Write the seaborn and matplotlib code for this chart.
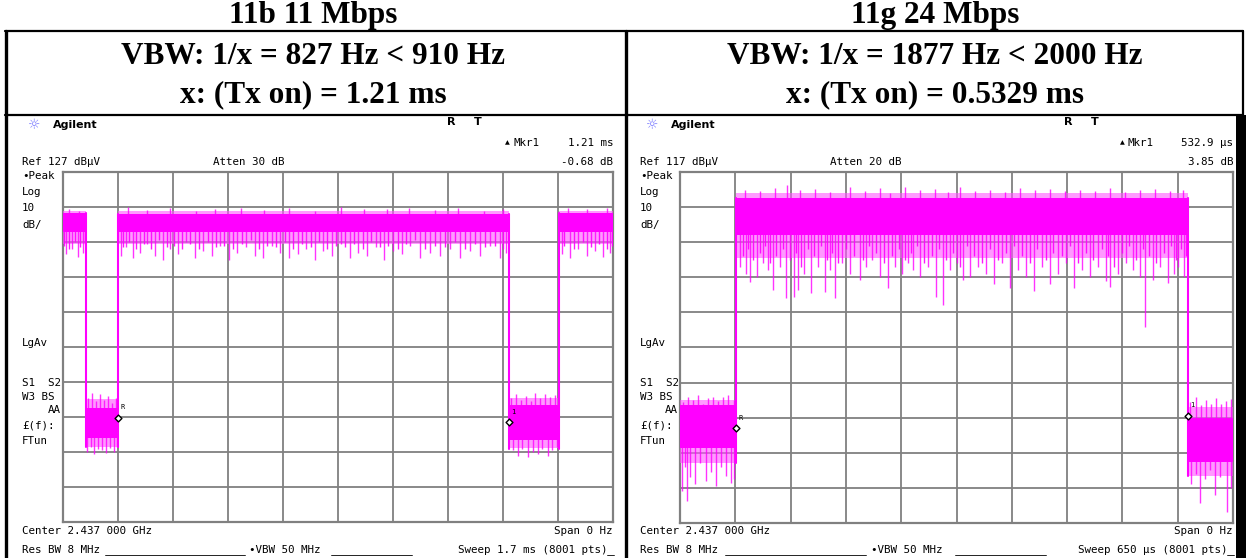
import numpy as np
import pandas as pd
import matplotlib
matplotlib.use("Agg")
import matplotlib.pyplot as plt
from matplotlib.patches import Rectangle
import seaborn as sns

# ---------------- data ----------------
titles = ["11b 11 Mbps", "11g 24 Mbps"]
vbw_lines = ["VBW: 1/x = 827 Hz < 910 Hz", "VBW: 1/x = 1877 Hz < 2000 Hz"]
tx_lines = ["x: (Tx on) = 1.21 ms", "x: (Tx on) = 0.5329 ms"]

# Left screen: 802.11b, sweep 1.7 ms, ref 127 dBuV, 10 dB/div
L_ref = 127
L_sweep = 1.7  # ms
L_edges = [0.0, 0.071, 0.170, 1.378, 1.533, 1.700]
L_core_top = [115.3, 59.5, 115.0, 60.5, 115.3]
L_core_bot = [110.0, 51.0, 110.0, 50.5, 110.0]
L_fr_top = [116.0, 62.0, 116.0, 62.5, 116.0]
L_fr_bot = [106.5, 48.5, 106.5, 48.0, 106.5]
L_dn_t = [0.009, 0.028, 0.046, 0.062,
          0.075, 0.085, 0.097, 0.108, 0.120, 0.133, 0.146, 0.158, 0.166,
          0.179, 0.195, 0.216, 0.238, 0.260, 0.284, 0.309, 0.331, 0.355, 0.380,
          0.408, 0.433, 0.461, 0.485, 0.513, 0.538, 0.566, 0.593, 0.618, 0.646,
          0.671, 0.699, 0.726, 0.751, 0.779, 0.804, 0.831, 0.859, 0.887, 0.912,
          0.940, 0.967, 0.992, 1.020, 1.048, 1.073, 1.104, 1.134, 1.165, 1.196,
          1.227, 1.258, 1.289, 1.320, 1.351, 1.369,
          1.390, 1.405, 1.420, 1.438, 1.452, 1.468, 1.482, 1.498, 1.512, 1.527,
          1.542, 1.567, 1.592, 1.620, 1.644, 1.669, 1.690]
L_dn_v = [103.5, 105.0, 102.8, 104.0,
          47.0, 48.5, 46.5, 48.0, 47.5, 46.8, 48.2, 47.0, 48.5,
          103.0, 105.5, 102.5, 104.0, 106.5, 103.0, 102.0, 105.0, 103.5, 107.0,
          102.5, 104.5, 103.0, 106.0, 102.0, 104.0, 105.5, 103.0, 102.5, 106.0,
          104.0, 102.5, 103.5, 105.0, 102.0, 104.5, 103.0, 106.5, 102.5, 104.0,
          103.0, 105.5, 102.0, 104.5, 103.5, 106.0, 102.5, 104.0, 103.0, 105.0,
          102.5, 104.5, 103.0, 106.0, 102.5, 104.0,
          47.5, 46.0, 48.0, 45.5, 47.0, 46.5, 48.0, 46.0, 47.5, 48.5,
          103.5, 102.5, 105.0, 103.0, 104.5, 102.8, 104.0]
# shallower hairs below the on-state band
L_dn2_t = [0.004, 0.018, 0.036, 0.054, 0.068,
           0.186, 0.205, 0.227, 0.249, 0.272, 0.296, 0.320, 0.343, 0.367,
           0.393, 0.420, 0.447, 0.473, 0.499, 0.525, 0.552, 0.580, 0.606,
           0.632, 0.658, 0.685, 0.712, 0.738, 0.765, 0.791, 0.817, 0.845,
           0.873, 0.900, 0.926, 0.953, 0.980, 1.006, 1.034, 1.060, 1.088,
           1.119, 1.150, 1.180, 1.211, 1.242, 1.273, 1.304, 1.336, 1.360,
           1.550, 1.580, 1.606, 1.632, 1.657, 1.680, 1.697]
L_dn2_v = [106.0, 105.0, 107.0, 105.5, 106.5,
           105.5, 107.0, 105.0, 106.5, 105.0, 107.5, 105.5, 106.0, 105.0,
           106.5, 105.0, 107.0, 105.5, 106.0, 105.0, 106.5, 107.5, 105.0,
           106.0, 105.5, 107.0, 105.0, 106.5, 105.5, 107.0, 105.0, 106.0,
           105.5, 106.5, 105.0, 107.0, 105.5, 106.0, 105.0, 106.5, 107.5,
           105.0, 106.0, 105.5, 107.0, 105.0, 106.5, 105.5, 106.0, 105.0,
           106.0, 105.0, 107.0, 105.5, 106.5, 105.0, 106.0]
L_up_t = [0.020, 0.050,
          0.078, 0.090, 0.102, 0.115, 0.128, 0.140, 0.152, 0.163,
          0.200, 0.260, 0.330, 0.410, 0.470, 0.550, 0.620, 0.700, 0.780, 0.860,
          0.930, 1.000, 1.070, 1.150, 1.220, 1.300, 1.360,
          1.385, 1.400, 1.415, 1.430, 1.445, 1.460, 1.475, 1.490, 1.505, 1.520,
          1.560, 1.620, 1.680]
L_up_v = [116.5, 116.0,
          62.5, 64.0, 61.5, 63.5, 62.0, 63.0, 61.0, 62.5,
          117.0, 116.2, 116.8, 116.0, 116.5, 116.8, 116.2, 116.6, 116.0, 116.9,
          116.3, 116.5, 116.8, 116.2, 116.6, 116.0, 116.4,
          62.5, 63.5, 62.0, 63.0, 61.5, 64.0, 62.5, 63.5, 62.8, 63.2,
          116.8, 116.3, 116.6]
L_mk_t = [0.170, 1.378]
L_mk_v = [56.8, 55.5]
L_mk_lbl = ["R", "1"]

# Right screen: 802.11g, sweep 650 us, ref 117 dBuV, 10 dB/div
R_ref = 117
R_sweep = 650.0  # us
R_edges = [0.0, 65.8, 597.0, 650.0]
R_core_top = [50.5, 109.5, 47.0]
R_core_bot = [38.5, 99.0, 34.5]
R_fr_top = [52.0, 111.0, 50.0]
R_fr_bot = [34.0, 92.5, 30.5]
R_dn_t = [2, 6, 8, 12, 18, 24, 30, 36, 42, 48, 54, 60, 64,
          70.5, 77.6, 82.3, 90.5, 97.6, 103.4, 109.3, 117.5, 124.6, 134.0, 138.7, 145.7, 154.0,
          162.2, 170.4, 176.3, 182.2, 190.4, 199.8, 211.6, 218.6, 225.7, 235.1, 244.5, 252.7, 260.9,
          268.0, 273.9, 282.1, 291.5, 300.9, 309.1, 317.4, 325.6, 332.6, 340.9, 350.3, 359.7, 369.1,
          378.5, 387.9, 397.3, 406.7, 416.1, 425.5, 434.9, 444.3, 453.7, 463.1, 472.5, 481.9, 491.3,
          500.7, 505.4, 514.8, 524.2, 532.5, 540.7, 546.6, 556.0, 564.2, 573.6, 580.7, 585.4, 592.4,
          601, 606, 611, 617, 623, 629, 635, 643, 648]
R_dn_v = [26.0, 33.0, 23.3, 30.0, 28.0, 34.0, 29.0, 31.5, 27.5, 33.0, 30.5, 28.5, 29.5,
          90.0, 88.0, 85.7, 87.0, 91.0, 89.0, 83.4, 90.0, 81.0, 81.4, 83.4, 88.0, 82.5,
          90.0, 82.8, 89.0, 81.0, 91.0, 88.0, 86.2, 90.0, 92.0, 87.0, 84.0, 90.0, 88.0,
          91.0, 89.0, 87.0, 90.0, 81.4, 79.0, 89.0, 91.0, 86.2, 87.0, 90.0, 88.0, 85.0,
          91.0, 84.0, 89.0, 87.0, 83.0, 90.0, 85.0, 88.0, 91.0, 84.0, 89.0, 87.0, 90.0,
          86.0, 84.2, 88.0, 91.0, 89.0, 87.0, 72.8, 86.2, 90.0, 85.4, 88.0, 90.0, 87.0,
          28.0, 31.0, 22.7, 29.5, 32.0, 25.0, 30.0, 20.2, 27.0]
R_dn2_t = [74, 80, 86, 94, 100, 106, 113, 121, 129, 136, 142, 150, 158,
           166, 173, 179, 186, 195, 205, 215, 222, 230, 240, 249, 257, 264,
           271, 278, 287, 296, 305, 313, 321, 329, 337, 345, 355, 364, 374,
           383, 392, 402, 411, 420, 430, 439, 449, 458, 468, 477, 486, 496,
           503, 510, 519, 528, 536, 544, 551, 560, 569, 577, 583, 589, 595]
R_dn2_v = [93, 95, 92, 94, 96, 91, 93, 95, 92, 94, 90, 95, 93,
           96, 92, 94, 91, 95, 93, 92, 96, 94, 91, 93, 95, 92,
           94, 96, 91, 93, 95, 92, 94, 90, 96, 93, 91, 95, 92,
           94, 96, 93, 91, 95, 92, 94, 93, 96, 91, 94, 92, 95,
           93, 90, 94, 96, 92, 95, 93, 91, 94, 96, 92, 95, 93]
R_up_t = [3, 9, 15, 21, 27, 33, 39, 45, 51, 57, 63,
          76.4, 94.0, 111.7, 125.8, 141.0, 158.7, 176.3, 199.8, 217.4, 235.1, 246.8,
          264.5, 282.1, 299.7, 315.0, 329.1, 346.7, 364.4, 382.0, 399.6, 417.3,
          434.9, 452.5, 470.2, 487.8, 505.4, 523.1, 540.7, 558.3, 575.9, 591.2,
          600, 606, 612, 618, 624, 630, 636, 642, 648]
R_up_v = [51.5, 53.0, 52.0, 53.5, 51.0, 52.5, 53.0, 51.8, 52.8, 53.5, 52.0,
          112.0, 111.5, 112.5, 113.3, 111.8, 112.2, 111.2, 112.8, 111.6, 112.3, 111.0,
          112.6, 111.9, 112.1, 111.4, 112.7, 111.7, 112.0, 111.3, 112.4, 111.8,
          112.2, 111.5, 112.0, 111.6, 112.3, 111.2, 111.9, 112.1, 111.5, 112.0,
          51.5, 52.9, 50.5, 52.0, 51.0, 52.5, 50.8, 51.8, 52.2]
R_mk_t = [65.8, 597.0]
R_mk_v = [44.0, 47.5]
R_mk_lbl = ["R", "1"]

# screen annotation texts
L_texts = dict(ref="Ref 127 dB\u00b5V", atten="Atten 30 dB", mkr_t="1.21 ms", mkr_v="-0.68 dB",
               sweep="Sweep 1.7 ms (8001 pts)")
R_texts = dict(ref="Ref 117 dB\u00b5V", atten="Atten 20 dB", mkr_t="532.9 \u00b5s", mkr_v="3.85 dB",
               sweep="Sweep 650 \u00b5s (8001 pts)")
side_labels = ["\u2022Peak", "Log", "10", "dB/", "LgAv", "S1  S2", "W3 BS", "\u00a3(f):", "FTun"]
side_y = [176, 192, 208, 225, 343, 383, 397, 425, 441]

# ---------------- style ----------------
sns.set_theme(style="white")
plt.rcParams["font.family"] = ["DejaVu Sans"]
plt.rcParams["text.color"] = "black"

W, H = 1246, 558
MAG = "#ff00ff"
MAG_LIGHT = "#ff55ff"
GRID = "#808080"
MONO = "DejaVu Sans Mono"
SERIF = "Liberation Serif"

fig = plt.figure(figsize=(W / 100, H / 100), dpi=100)
fig.patch.set_facecolor("white")

ov = fig.add_axes([0, 0, 1, 1], zorder=0)
ov.set_xlim(0, W)
ov.set_ylim(H, 0)
ov.axis("off")

# table frame
ov.plot([5, 1243], [31, 31], color="black", lw=1.6)
ov.plot([5, 1243], [115, 115], color="black", lw=1.6)
ov.plot([6, 6], [31, 558], color="black", lw=2.4)
ov.plot([626, 626], [31, 558], color="black", lw=2.4)
ov.plot([1243, 1243], [31, 115], color="black", lw=1.6)
ov.add_patch(Rectangle((1236, 115), 10, 443, color="black", lw=0))

for cx, t, v, x in zip([313, 935], titles, vbw_lines, tx_lines):
    ov.text(cx, 15, t, ha="center", va="center", family=SERIF, weight="bold", fontsize=22.5)
    ov.text(cx, 57, v, ha="center", va="center", family=SERIF, weight="bold", fontsize=22.5)
    ov.text(cx, 95, x, ha="center", va="center", family=SERIF, weight="bold", fontsize=22.5)


def screen_text(x0, gx0, gx1, txt, atten_x, r_x, tri_x, vbw_x, lines):
    ov.text(x0 + 12, 125, "\u263c", ha="center", va="center", color="#7b7bff", fontsize=10,
            family="DejaVu Sans")
    ov.text(x0 + 31, 125, "Agilent", ha="left", va="center", weight="bold", fontsize=8,
            family="DejaVu Sans")
    ov.text(r_x, 122, "R", ha="left", va="center", weight="bold", fontsize=8, family="DejaVu Sans")
    ov.text(r_x + 27, 122, "T", ha="left", va="center", weight="bold", fontsize=8, family="DejaVu Sans")
    ov.text(tri_x, 143, "\u25b2", ha="left", va="center", fontsize=4.5, family="DejaVu Sans")
    ov.text(tri_x + 8, 143, "Mkr1", ha="left", va="center", fontsize=7.8, family=MONO)
    ov.text(gx1, 143, txt["mkr_t"], ha="right", va="center", fontsize=7.8, family=MONO)
    ov.text(gx1, 162, txt["mkr_v"], ha="right", va="center", fontsize=7.8, family=MONO)
    ov.text(x0, 162, txt["ref"], ha="left", va="center", fontsize=7.8, family=MONO)
    ov.text(atten_x, 162, txt["atten"], ha="left", va="center", fontsize=7.8, family=MONO)
    for s, y in zip(side_labels, side_y):
        ov.text(x0, y, s, ha="left", va="center", fontsize=7.8, family=MONO)
    ov.text(gx0 - 2, 410, "AA", ha="right", va="center", fontsize=7.8, family=MONO)
    ov.text(x0, 531, "Center 2.437 000 GHz", ha="left", va="center", fontsize=7.8, family=MONO)
    ov.text(gx1, 531, "Span 0 Hz", ha="right", va="center", fontsize=7.8, family=MONO)
    ov.text(x0, 550, "Res BW 8 MHz", ha="left", va="center", fontsize=7.8, family=MONO)
    ov.text(vbw_x, 550, "\u2022VBW 50 MHz", ha="left", va="center", fontsize=7.8, family=MONO)
    ov.text(gx1 - 6, 550, txt["sweep"], ha="right", va="center", fontsize=7.8, family=MONO)
    for a, b in lines:
        ov.plot([a, b], [555, 555], color="black", lw=0.6)


screen_text(22, 63, 613, L_texts, 213, 447, 505, 249, [(105, 245), (331, 412), (607, 614)])
screen_text(640, 680, 1233, R_texts, 830, 1064, 1120, 871, [(725, 866), (955, 1046), (1227, 1234)])


def draw_panel(px, ref, sweep, edges, ctop, cbot, ftop, fbot, up_t, up_v, dn_t, dn_v,
               dn2_t, dn2_v, mk_t, mk_v, mk_lbl):
    x0, y0, x1, y1 = px
    ax = fig.add_axes([x0 / W, 1 - y1 / H, (x1 - x0) / W, (y1 - y0) / H], zorder=2)
    ax.set_facecolor("white")
    ax.set_xlim(0, sweep)
    ax.set_ylim(ref - 100, ref)
    ax.set_xticks(np.linspace(0, sweep, 11))
    ax.set_yticks(np.linspace(ref - 100, ref, 11))
    ax.tick_params(length=0, labelbottom=False, labelleft=False)
    ax.grid(True, color=GRID, lw=1.3)
    ax.set_axisbelow(True)
    for s in ax.spines.values():
        s.set_color(GRID)
        s.set_linewidth(1.6)
    edges = np.asarray(edges)
    # noise bands
    for i in range(len(edges) - 1):
        xs = [edges[i], edges[i + 1]]
        ax.fill_between(xs, fbot[i], ftop[i], color=MAG_LIGHT, alpha=0.6, lw=0, zorder=3)
        ax.fill_between(xs, cbot[i], ctop[i], color=MAG, lw=0, zorder=4)
    mid = (np.asarray(ctop) + np.asarray(cbot)) / 2
    for ts, vs, a in ((dn_t, dn_v, 0.8), (dn2_t, dn2_v, 0.9), (up_t, up_v, 0.8)):
        ts = np.asarray(ts, float)
        idx = np.clip(np.searchsorted(edges, ts) - 1, 0, len(mid) - 1)
        ax.vlines(ts, mid[idx], vs, color=MAG, lw=1.0, alpha=a, zorder=3)
    # burst edges (rise/fall) via seaborn
    rows = []
    for k in range(1, len(edges) - 1):
        lo = min(fbot[k - 1], fbot[k])
        hi = max(ctop[k - 1], ctop[k])
        rows += [dict(t=edges[k], level=lo, edge=k), dict(t=edges[k], level=hi, edge=k)]
    df = pd.DataFrame(rows)
    sns.lineplot(data=df, x="t", y="level", units="edge", estimator=None, sort=False,
                 color=MAG, lw=1.5, ax=ax, zorder=5, legend=False)
    ax.set_xlabel("")
    ax.set_ylabel("")
    # markers
    ax.scatter(mk_t, mk_v, marker="D", s=12, facecolor="white", edgecolor="black", lw=1.0, zorder=6)
    for t, v, lb in zip(mk_t, mk_v, mk_lbl):
        ax.text(t + sweep * 0.004, v + 3.0, lb, fontsize=5, family=MONO, ha="left", va="center",
                zorder=7)
    return ax


draw_panel((63, 172, 613, 522), L_ref, L_sweep, L_edges, L_core_top, L_core_bot, L_fr_top, L_fr_bot,
           L_up_t, L_up_v, L_dn_t, L_dn_v, L_dn2_t, L_dn2_v, L_mk_t, L_mk_v, L_mk_lbl)
draw_panel((680, 172, 1233, 523), R_ref, R_sweep, R_edges, R_core_top, R_core_bot, R_fr_top, R_fr_bot,
           R_up_t, R_up_v, R_dn_t, R_dn_v, R_dn2_t, R_dn2_v, R_mk_t, R_mk_v, R_mk_lbl)

fig.savefig("out.png", dpi=100, facecolor="white")
